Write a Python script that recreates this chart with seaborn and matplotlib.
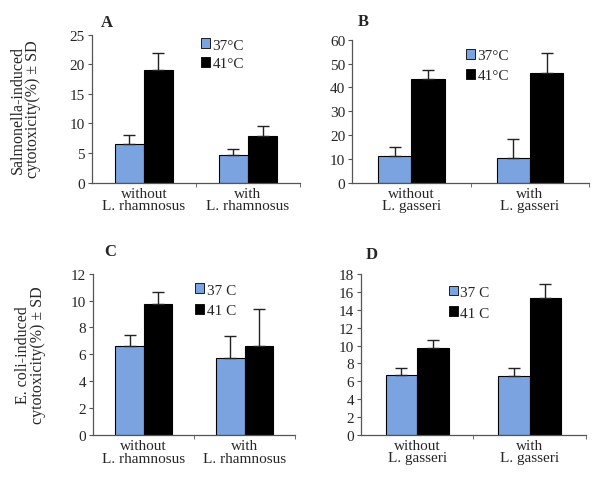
import matplotlib
matplotlib.use("Agg")
import matplotlib.pyplot as plt
import seaborn as sns
import pandas as pd
import numpy as np

sns.set_style("white")
plt.rcParams['font.family'] = ['Liberation Serif', 'DejaVu Serif']

# ---- data ----
cats_rham = ["without\nL. rhamnosus", "with\nL. rhamnosus"]
cats_gass = ["without\nL. gasseri", "with\nL. gasseri"]

A_37 = [6.5, 4.7];   A_37_sd = [1.5, 1.0]
A_41 = [19.1, 7.9];  A_41_sd = [2.8, 1.7]
B_37 = [11.1, 10.3]; B_37_sd = [4.1, 8.2]
B_41 = [43.6, 46.2]; B_41_sd = [3.8, 8.2]
C_37 = [6.65, 5.75]; C_37_sd = [0.8, 1.6]
C_41 = [9.77, 6.65]; C_41_sd = [0.85, 2.7]
D_37 = [6.65, 6.55]; D_37_sd = [0.8, 0.9]
D_41 = [9.77, 15.34]; D_41_sd = [0.85, 1.55]

labels_deg = ["37°C", "41°C"]
labels_nodeg = ["37 C", "41 C"]

ylabel_top = "Salmonella-induced\ncytotoxicity(%) ± SD"
ylabel_bot = "E. coli-induced\ncytotoxicity(%) ± SD"

BLUE = "#7BA3E0"

fig = plt.figure(figsize=(6.0, 4.85), dpi=100)

panels = [
    dict(pos=[0.153, 0.6216, 0.347, 0.3047], cats=cats_rham, v37=A_37, s37=A_37_sd, v41=A_41, s41=A_41_sd,
         ymax=25, step=5, labels=labels_deg, letter="A", ylabel=ylabel_top, ylx=-0.245,
         leg=(0.525, 0.975), lsp=0.35, letter_xy=(107, 23)),
    dict(pos=[0.587, 0.621, 0.395, 0.295], cats=cats_gass, v37=B_37, s37=B_37_sd, v41=B_41, s41=B_41_sd,
         ymax=60, step=10, labels=labels_deg, letter="B", ylabel=None, ylx=None,
         leg=(0.48, 0.935), lsp=0.45, letter_xy=(363, 22)),
    dict(pos=[0.1555, 0.101, 0.336, 0.3326], cats=cats_rham, v37=C_37, s37=C_37_sd, v41=C_41, s41=C_41_sd,
         ymax=12, step=2, labels=labels_nodeg, letter="C", ylabel=ylabel_bot, ylx=-0.235,
         leg=(0.505, 0.94), lsp=0.5, letter_xy=(110, 252)),
    dict(pos=[0.6017, 0.1016, 0.3745, 0.3307], cats=cats_gass, v37=D_37, s37=D_37_sd, v41=D_41, s41=D_41_sd,
         ymax=18, step=2, labels=labels_nodeg, letter="D", ylabel=None, ylx=None,
         leg=(0.39, 0.93), lsp=0.5, letter_xy=(372, 255)),
]

for p in panels:
    ax = fig.add_axes(p["pos"])
    df = pd.DataFrame({
        "cat": p["cats"] * 2,
        "temp": [p["labels"][0]] * 2 + [p["labels"][1]] * 2,
        "val": list(p["v37"]) + list(p["v41"]),
    })
    sns.barplot(data=df, x="cat", y="val", hue="temp", order=p["cats"],
                hue_order=p["labels"], palette=[BLUE, "black"], width=0.56, saturation=1,
                edgecolor="black", linewidth=0.8, errorbar=None, ax=ax, legend=True)
    patches = [b for b in ax.patches if b.get_height() > 0]
    patches = sorted(patches, key=lambda b: b.get_x())
    order_vals = [p["v37"][0], p["v41"][0], p["v37"][1], p["v41"][1]]
    order_sds = [p["s37"][0], p["s41"][0], p["s37"][1], p["s41"][1]]
    for b, v, s in zip(patches, order_vals, order_sds):
        xc = b.get_x() + b.get_width() / 2
        ax.errorbar(xc, v, yerr=[[0], [s]], fmt="none", ecolor="#222222",
                    elinewidth=1.0, capsize=4, capthick=1.0, zorder=3)

    ax.set_xlim(-0.5, 1.5)
    ax.set_ylim(0, p["ymax"])
    ax.set_yticks(np.arange(0, p["ymax"] + 0.1, p["step"]))
    ax.set_xlabel("")
    ax.set_ylabel("")
    ax.set_xticks([0, 1])
    ax.set_xticklabels(p["cats"], fontsize=11, linespacing=0.95)
    ax.set_xticks([0.5, 1.5], minor=True)
    ax.tick_params(axis="x", which="major", length=0, pad=3)
    ax.tick_params(axis="x", which="minor", length=3, direction="out", color="#555555", bottom=True)
    ax.tick_params(axis="y", length=3, direction="out", color="#555555", labelsize=11, pad=2, left=True)
    for s in ["top", "right"]:
        ax.spines[s].set_visible(False)
    for s in ["left", "bottom"]:
        ax.spines[s].set_color("#555555")
        ax.spines[s].set_linewidth(0.9)
    if p["ylabel"]:
        ax.set_ylabel(p["ylabel"], fontsize=11.5, linespacing=0.95)
        ax.yaxis.set_label_coords(p["ylx"], 0.5)
    leg = ax.legend(loc="upper left", bbox_to_anchor=p["leg"], frameon=False, fontsize=11,
                    handlelength=0.6, handleheight=0.6, handletextpad=0.15, labelspacing=p["lsp"],
                    borderaxespad=0, borderpad=0)
    for h in leg.legend_handles:
        h.set_edgecolor("black")
        h.set_linewidth(0.6)
    lx, ly = p["letter_xy"]
    fig.text(lx / 600, 1 - ly / 485, p["letter"], fontsize=12, fontweight="bold",
             ha="center", va="center")

fig.savefig("out.png", dpi=100)
